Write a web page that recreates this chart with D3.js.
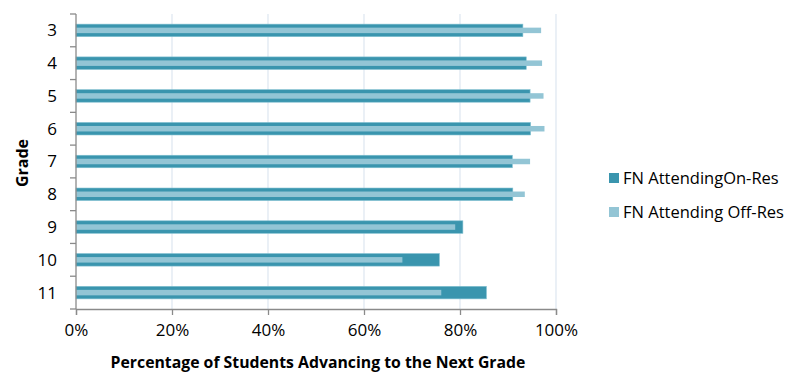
<!DOCTYPE html>
<html>
<head>
<meta charset="utf-8">
<script src="https://cdn.jsdelivr.net/npm/d3@7"></script>
<style>
body { margin: 0; background: #fff; }
text { font-family: "Open Sans", sans-serif; fill: #000; }
</style>
</head>
<body>
<svg id="chart" width="800" height="383"></svg>
<script>
// data
const grades = ["3", "4", "5", "6", "7", "8", "9", "10", "11"];
const onRes = [93.1, 93.8, 94.6, 94.7, 90.9, 91.0, 80.6, 75.7, 85.5];
const offRes = [96.9, 97.1, 97.4, 97.6, 94.6, 93.5, 79.0, 68.0, 76.1];
const xTicks = [0, 20, 40, 60, 80, 100];
const seriesNames = ["FN AttendingOn-Res", "FN Attending Off-Res"];

const darkCol = "#3a95ae";
const lightCol = "#93c5d5";

const svg = d3.select("#chart");
const m = {left: 76, right: 244, top: 14, bottom: 74};
const W = 800 - m.left - m.right;
const H = 383 - m.top - m.bottom;

const x = d3.scaleLinear().domain([0, 100]).range([0, W]);
const y = d3.scaleBand().domain(grades).range([0, H]);

const g = svg.append("g").attr("transform", `translate(${m.left},${m.top})`);

// gridlines
g.selectAll(".grid")
  .data(xTicks.slice(1))
  .join("line")
  .attr("x1", d => x(d)).attr("x2", d => x(d))
  .attr("y1", 0).attr("y2", H)
  .attr("stroke", "#dde6f0").attr("stroke-width", 1.2);

const rows = grades.map((gr, i) => ({grade: gr, on: onRes[i], off: offRes[i]}));

const darkH = 12.5, lightH = 5.5;
g.selectAll(".dark")
  .data(rows)
  .join("rect")
  .attr("x", 0)
  .attr("y", d => y(d.grade) + y.bandwidth() / 2 - darkH / 2)
  .attr("width", d => x(d.on))
  .attr("height", darkH)
  .attr("fill", darkCol)
  .attr("stroke", "#7fbfd0").attr("stroke-width", 0.6);

g.selectAll(".light")
  .data(rows)
  .join("rect")
  .attr("x", 0)
  .attr("y", d => y(d.grade) + y.bandwidth() / 2 - lightH / 2)
  .attr("width", d => x(d.off))
  .attr("height", lightH)
  .attr("fill", lightCol);

// x axis
const xAxis = g.append("g")
  .attr("transform", `translate(0,${H})`)
  .call(d3.axisBottom(x).tickValues(xTicks).tickFormat(d => d + "%").tickSize(6).tickPadding(9));
xAxis.select(".domain").attr("stroke", "#8a8a8a").attr("stroke-width", 1.3);
xAxis.selectAll(".tick line").attr("stroke", "#8a8a8a").attr("stroke-width", 1.3);
xAxis.selectAll("text").attr("font-size", 17).attr("fill", "#000").attr("font-family", "Open Sans");

// y axis: ticks on band boundaries
const yAxisG = g.append("g");
yAxisG.append("line")
  .attr("x1", 0).attr("x2", 0).attr("y1", 0).attr("y2", H)
  .attr("stroke", "#8a8a8a").attr("stroke-width", 1.3);
const bounds = grades.map(d => y(d)).concat([H]);
yAxisG.selectAll(".ytick")
  .data(bounds)
  .join("line")
  .attr("x1", -6).attr("x2", 0)
  .attr("y1", d => d).attr("y2", d => d)
  .attr("stroke", "#8a8a8a").attr("stroke-width", 1.3);
yAxisG.selectAll(".ylab")
  .data(grades)
  .join("text")
  .attr("x", -19)
  .attr("y", d => y(d) + y.bandwidth() / 2)
  .attr("dy", "0.35em")
  .attr("text-anchor", "end")
  .attr("font-size", 17)
  .text(d => d);

// axis titles
svg.append("text")
  .attr("x", m.left + W / 2 + 2)
  .attr("y", 368)
  .attr("text-anchor", "middle")
  .attr("font-size", 15.8)
  .attr("font-weight", "bold")
  .text("Percentage of Students Advancing to the Next Grade");

svg.append("text")
  .attr("transform", "translate(28,163) rotate(-90)")
  .attr("text-anchor", "middle")
  .attr("font-size", 16)
  .attr("font-weight", "bold")
  .text("Grade");

// legend
const legend = svg.append("g").attr("transform", "translate(609,178)");
const li = legend.selectAll("g")
  .data(seriesNames)
  .join("g")
  .attr("transform", (d, i) => `translate(0,${i * 34})`);
li.append("rect")
  .attr("x", 0).attr("y", -5)
  .attr("width", 10).attr("height", 10)
  .attr("fill", (d, i) => i === 0 ? darkCol : lightCol);
li.append("text")
  .attr("x", 14).attr("y", 0).attr("dy", "0.35em")
  .attr("font-size", 16.5)
  .text(d => d);
</script>
</body>
</html>
